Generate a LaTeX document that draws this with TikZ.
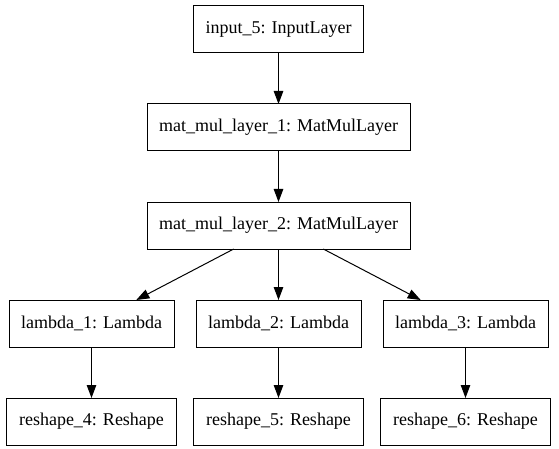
\documentclass[tikz,border=0pt]{standalone}
\usepackage{fontspec}
\setmainfont{Liberation Serif}
\usepackage{tikz}
\usetikzlibrary{arrows.meta,positioning}

\begin{document}
\begin{tikzpicture}[->,>={Triangle[length=13pt,width=9.5pt]},line width=1pt,node distance=51pt and 22pt]

        \tikzstyle{layer}=[draw=black,fill=white,text=black,rectangle,outer sep=0pt,minimum height=47pt,inner xsep=12pt,font=\fontsize{18pt}{22pt}\selectfont]

        \useasboundingbox (0,0) rectangle (559pt,-449pt);

        \node[layer,minimum width=167pt] (input) at (278.5pt,-29.5pt) {input\_5: InputLayer};
        \node[layer,minimum width=263pt] (mm1) [below=of input] {mat\_mul\_layer\_1: MatMulLayer};
        \node[layer,minimum width=263pt] (mm2) [below=of mm1]   {mat\_mul\_layer\_2: MatMulLayer};
        \node[layer,minimum width=165pt] (l2)  [below=of mm2]   {lambda\_2: Lambda};
        \node[layer,minimum width=165pt] (l1)  [left=of l2]     {lambda\_1: Lambda};
        \node[layer,minimum width=165pt] (l3)  [right=of l2]    {lambda\_3: Lambda};
        \node[layer,minimum width=170pt] (r4)  [below=of l1]    {reshape\_4: Reshape};
        \node[layer,minimum width=170pt] (r5)  [below=of l2]    {reshape\_5: Reshape};
        \node[layer,minimum width=170pt] (r6)  [below=of l3]    {reshape\_6: Reshape};

        \path
        (input) edge (mm1)
        (mm1) edge (mm2)
        (mm2) edge (l1)
        (mm2) edge (l2)
        (mm2) edge (l3)
        (l1) edge (r4)
        (l2) edge (r5)
        (l3) edge (r6)
    ;
    \end{tikzpicture}
\end{document}
